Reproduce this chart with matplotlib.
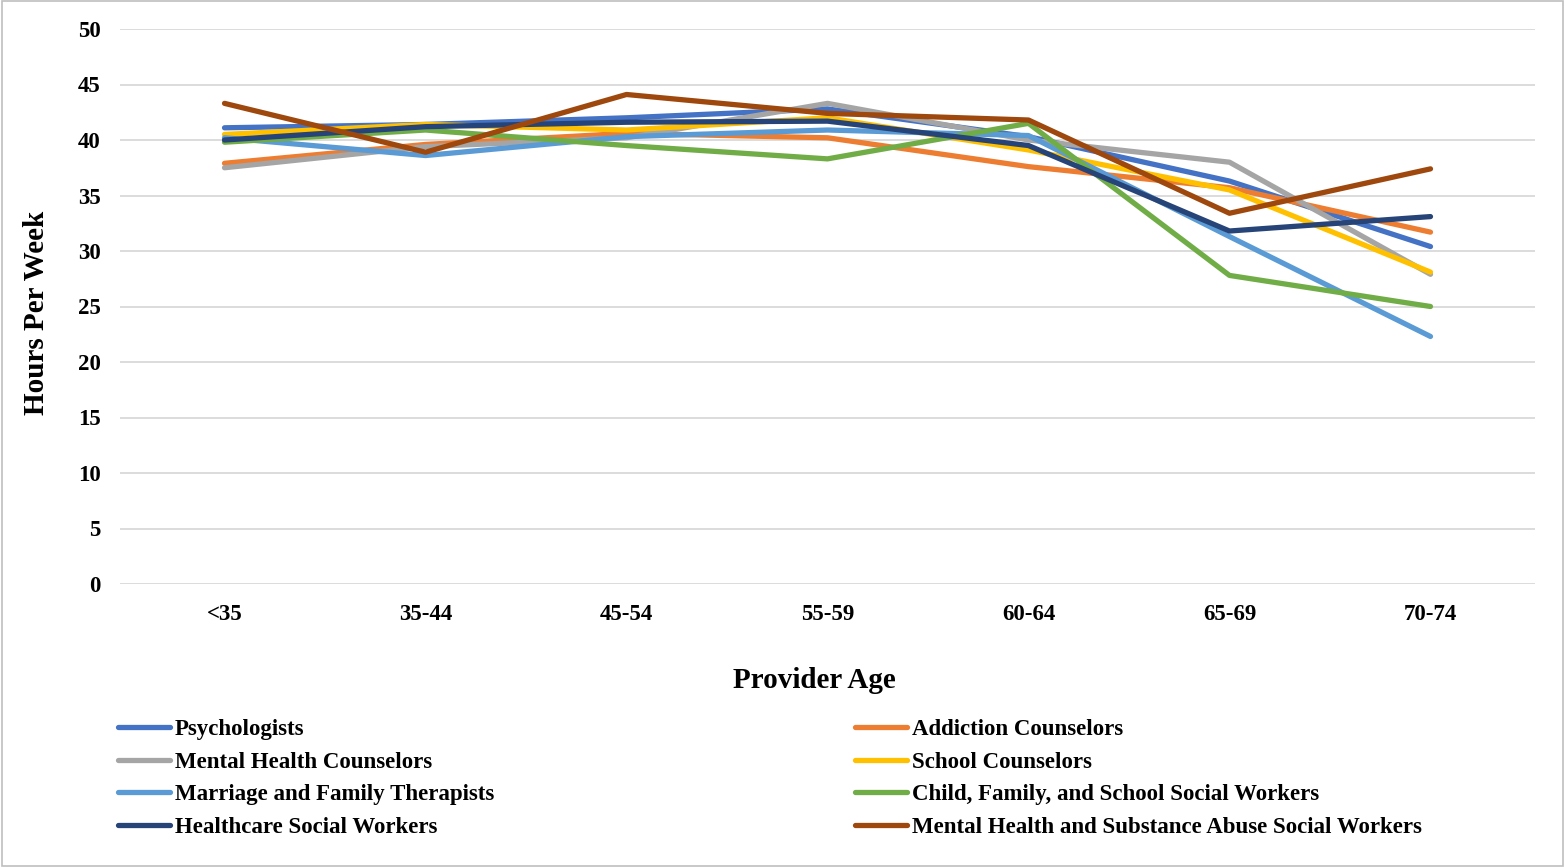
import matplotlib
matplotlib.use("Agg")
import matplotlib.pyplot as plt
from matplotlib.patches import Rectangle
import numpy as np

# age groups along the x axis
ages = ["<35", "35-44", "45-54", "55-59", "60-64", "65-69", "70-74"]

psychologists = [41.1, 41.4, 42.0, 42.8, 40.3, 36.3, 30.4]
addiction = [37.9, 39.6, 40.6, 40.2, 37.6, 35.7, 31.7]
mental_health = [37.5, 39.4, 40.2, 43.3, 40.0, 38.0, 27.9]
school = [40.5, 41.4, 40.9, 42.0, 39.1, 35.5, 28.1]
marriage_family = [40.2, 38.6, 40.3, 40.9, 40.4, 31.3, 22.3]
child_family = [39.8, 40.9, 39.5, 38.3, 41.5, 27.8, 25.0]
healthcare_sw = [40.0, 41.2, 41.6, 41.7, 39.5, 31.8, 33.1]
mhsa_sw = [43.3, 38.9, 44.1, 42.4, 41.8, 33.4, 37.4]

series = [
    ("Psychologists", psychologists, "#4472C4"),
    ("Addiction Counselors", addiction, "#ED7D31"),
    ("Mental Health Counselors", mental_health, "#A5A5A5"),
    ("School Counselors", school, "#FFC000"),
    ("Marriage and Family Therapists", marriage_family, "#5B9BD5"),
    ("Child, Family, and School Social Workers", child_family, "#70AD47"),
    ("Healthcare Social Workers", healthcare_sw, "#264478"),
    ("Mental Health and Substance Abuse Social Workers", mhsa_sw, "#9E480E"),
]

plt.rcParams["font.family"] = ["Liberation Serif", "DejaVu Serif"]
plt.rcParams["font.weight"] = "bold"

fig = plt.figure(figsize=(15.65, 8.67), dpi=100)
ax = fig.add_axes([120 / 1565, 1 - 584 / 867, 1415 / 1565, 555 / 867])

x = np.arange(len(ages))
lines = {}
for name, vals, col in series:
    ln, = ax.plot(x, vals, color=col, lw=3.8, solid_capstyle="round", label=name)
    lines[name] = ln

ax.set_xlim(-0.52, len(ages) - 0.48)
ax.set_ylim(0, 50)
ax.set_yticks(range(0, 51, 5))
ax.set_xticks(x)
ax.set_xticklabels(ages)
ax.grid(axis="y", color="#D9D9D9", lw=1.3)
ax.set_axisbelow(True)
for s in ax.spines.values():
    s.set_visible(False)
ax.tick_params(length=0, labelsize=16.5)
ax.tick_params(axis="x", pad=14.5)
ax.tick_params(axis="y", pad=14)
for t in ax.get_xticklabels() + ax.get_yticklabels():
    t.set_fontweight("bold")

fig.text(37 / 1565, 1 - 313 / 867, "Hours Per Week", fontsize=21, fontweight="bold",
         rotation=90, ha="center", va="center")
fig.text(814 / 1565, 1 - 681 / 867, "Provider Age", fontsize=21, fontweight="bold",
         ha="center", va="center")

# legend in two columns, read row by row
left_names = [series[i][0] for i in (0, 2, 4, 6)]
right_names = [series[i][0] for i in (1, 3, 5, 7)]
common = dict(frameon=False, fontsize=16.5, handlelength=2.27, handletextpad=0.2,
              labelspacing=0.5, borderaxespad=0, borderpad=0)
leg1 = fig.legend([lines[n] for n in left_names], left_names, loc="upper left",
                  bbox_to_anchor=(118 / 1565, 1 - 719 / 867), **common)
leg2 = fig.legend([lines[n] for n in right_names], right_names, loc="upper left",
                  bbox_to_anchor=(855 / 1565, 1 - 719 / 867), **common)
for leg in (leg1, leg2):
    for t in leg.get_texts():
        t.set_fontweight("bold")

fig.patches.append(Rectangle((0.001, 0.001), 0.998, 0.998, transform=fig.transFigure,
                             fill=False, edgecolor="#BFBFBF", lw=1.2))

fig.savefig("out.png", dpi=100, facecolor="white")
